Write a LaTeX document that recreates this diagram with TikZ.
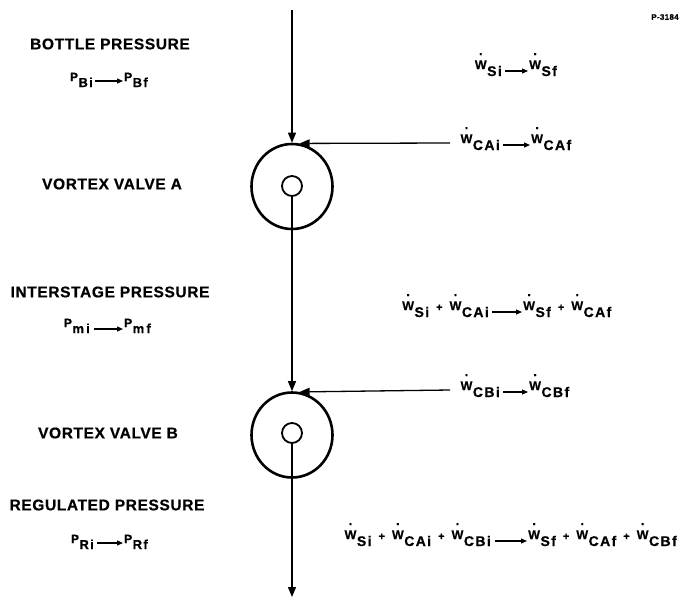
\documentclass[tikz,border=0pt]{standalone}
\usepackage{fontspec}
\usetikzlibrary{arrows.meta,shapes.geometric}
\newfontfamily\labfont{Liberation Sans Bold}[LetterSpace=4, FakeBold=0.6]
\newfontfamily\eqfont{Liberation Sans Bold}[LetterSpace=10, FakeBold=0.6]
\newcommand\Pq[1]{{\fontsize{12}{12}\selectfont\raisebox{6pt}{P}}\kern0.5pt{\fontsize{13}{13}\selectfont #1}}
\newcommand\Wq[1]{\raisebox{7pt}{\fontsize{12.5}{12.5}\selectfont\ooalign{W\cr\hidewidth\raisebox{14pt}{\fontsize{13}{13}\selectfont.}\hidewidth\cr}}\kern0.5pt{\fontsize{14}{14}\selectfont #1}}
\newcommand\pl{\hspace{7pt}{\fontsize{11}{11}\selectfont\raisebox{6pt}{+}}\hspace{7pt}}
\tikzset{
  lab/.style={font={\labfont\fontsize{15.5}{15.5}\selectfont}, inner sep=0pt},
  eqn/.style={font={\eqfont}, inner sep=0pt},
  flow/.style={line width=1.3pt},
  valve/.style={ellipse, draw, line width=2.6pt, minimum width=81pt, minimum height=85pt, inner sep=0pt},
  port/.style={circle, draw, line width=1.8pt, minimum size=20pt, inner sep=0pt},
  tip/.style={-{Triangle[length=10pt,width=8pt]}},
  eqarrow/.style={line width=1.2pt, -{Triangle[length=6pt,width=5pt]}}
}
\begin{document}
\begin{tikzpicture}[x=1pt,y=-1pt]
\useasboundingbox (0,0) rectangle (693,598);

% valves
\node[valve] (A) at (292,186.5) {};
\node[port] (Ai) at (292,186) {};
\node[valve] (B) at (292,435) {};
\node[port] (Bi) at (292,433) {};

\coordinate (top) at (292,10);
\coordinate (bottom) at (292,597);
\coordinate (caend) at (450,143);
\coordinate (cbend) at (450,390);

\draw[flow,tip] (top) -- (A.north);
\draw[flow,tip] (caend) -- (A.80);
\draw[flow,tip] (Ai.south) -- (B.north);
\draw[flow,tip] (cbend) -- (B.80);
\draw[flow,tip] (Bi.south) -- (bottom);

% left labels
\node[lab] (bp) at (110,44) {BOTTLE PRESSURE};
\node[lab] (va) at (112,184) {VORTEX VALVE A};
\node[lab] (ip) at (110,292) {INTERSTAGE PRESSURE};
\node[lab] (vb) at (108,433) {VORTEX VALVE B};
\node[lab] (rp) at (107,505) {REGULATED PRESSURE};
\node[eqn, font={\labfont\fontsize{8}{8}\selectfont}] (pno) at (665,17) {P-3184};

% pressure equations
\node[eqn, anchor=base east] (pbi) at (93,87) {\Pq{Bi}};
\node[eqn, anchor=base west] (pbf) at (124,87) {\Pq{Bf}};
\draw[eqarrow] ([shift={(2pt,6pt)}]pbi.base east) -- ([shift={(-1pt,6pt)}]pbf.base west);

\node[eqn, anchor=base east] (pmi) at (90,333) {\Pq{m\,i}};
\node[eqn, anchor=base west] (pmf) at (124,333) {\Pq{m\,f}};
\draw[eqarrow] ([shift={(4pt,4pt)}]pmi.base east) -- ([shift={(-1pt,4pt)}]pmf.base west);

\node[eqn, anchor=base east] (pri) at (94,549) {\Pq{Ri}};
\node[eqn, anchor=base west] (prf) at (124,549) {\Pq{Rf}};
\draw[eqarrow] ([shift={(3pt,6pt)}]pri.base east) -- ([shift={(-1pt,6pt)}]prf.base west);

% flow equations
\node[eqn, anchor=base east] (wsi) at (502,76) {\Wq{Si}};
\node[eqn, anchor=base west] (wsf) at (529,76) {\Wq{Sf}};
\draw[eqarrow] ([shift={(3pt,5pt)}]wsi.base east) -- ([shift={(-1pt,5pt)}]wsf.base west);

\node[eqn, anchor=base east] (wcai) at (500,150) {\Wq{CAi}};
\node[eqn, anchor=base west] (wcaf) at (531,150) {\Wq{CAf}};
\draw[eqarrow] ([shift={(3pt,5pt)}]wcai.base east) -- ([shift={(-1pt,5pt)}]wcaf.base west);

\node[eqn, anchor=base east] (m1) at (489,317) {\Wq{Si}\pl\Wq{CAi}};
\node[eqn, anchor=base west] (m2) at (523,317) {\Wq{Sf}\pl\Wq{CAf}};
\draw[eqarrow] ([shift={(3pt,5pt)}]m1.base east) -- ([shift={(-1pt,5pt)}]m2.base west);

\node[eqn, anchor=base east] (wcbi) at (500,397) {\Wq{CBi}};
\node[eqn, anchor=base west] (wcbf) at (529,397) {\Wq{CBf}};
\draw[eqarrow] ([shift={(3pt,5pt)}]wcbi.base east) -- ([shift={(-1pt,5pt)}]wcbf.base west);

\node[eqn, anchor=base east] (r1) at (491,546) {\Wq{Si}\pl\Wq{CAi}\pl\Wq{CBi}};
\node[eqn, anchor=base west] (r2) at (528,546) {\Wq{Sf}\pl\Wq{CAf}\pl\Wq{CBf}};
\draw[eqarrow] ([shift={(4pt,5pt)}]r1.base east) -- ([shift={(-1pt,5pt)}]r2.base west);
\end{tikzpicture}
\end{document}
